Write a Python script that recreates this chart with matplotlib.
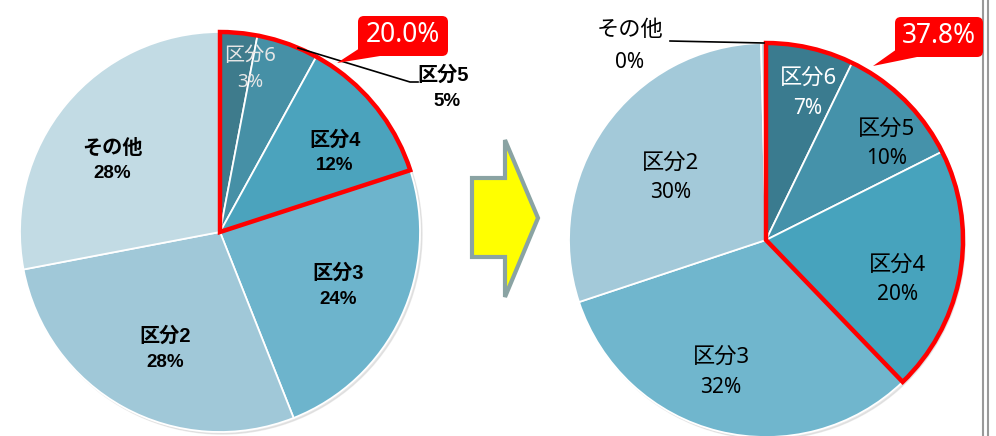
import matplotlib
matplotlib.use('Agg')
import matplotlib.pyplot as plt
from matplotlib.patches import Wedge, Circle, FancyBboxPatch, Polygon

plt.rcParams['font.family'] = ['Noto Sans', 'Noto Sans CJK JP', 'DejaVu Sans']
BOLD_FAMILY = ['Liberation Sans', 'Noto Sans CJK JP', 'DejaVu Sans']

# Data
categories = ['区分6', '区分5', '区分4', '区分3', '区分2', 'その他']
before = [3.0, 5.0, 12.0, 24.0, 28.0, 28.0]
after = [7.2, 10.4, 20.2, 32.1, 29.7, 0.4]
n_highlight = 3  # 区分6, 区分5, 区分4

before_colors = ['#3e7b8c', '#4690a6', '#4ba3bd', '#6db4cc', '#a0c8d8', '#c2dbe4']
after_colors = ['#3a7b8f', '#4592aa', '#47a3bd', '#70b6cd', '#a3c9d9', '#c2dbe4']

# label block centres in pixels (None = label drawn outside with a leader)
before_label_pos = [(250, 69), None, (335, 153), (338, 286), (165, 349), (112, 161)]
after_label_pos = [(808, 93), (887, 144), (898, 280), (721, 372), (671, 178), None]

W, H = 996, 436
fig = plt.figure(figsize=(W / 100, H / 100), dpi=100)
ax = fig.add_axes([0, 0, 1, 1])


def py(y):
    # pixel row (top = 0) -> data y
    return H - y


def family_for(weight):
    return BOLD_FAMILY if weight == 'bold' else plt.rcParams['font.family']


def draw_pie(values, colors, cx, cy, r, label_pos, text_colors, weights, fs, gap):
    center = (cx, py(cy))
    # soft shadow
    ax.add_patch(Circle((center[0] + 2, center[1] - 2), r, color='#d0d0d0', alpha=0.5, zorder=0))
    wedges, _ = ax.pie(values, colors=colors, startangle=90, counterclock=False,
                       center=center, radius=r,
                       wedgeprops=dict(edgecolor='white', linewidth=1.3))
    for w in wedges:
        w.set_zorder(1)
    for i, pos in enumerate(label_pos):
        if pos is None:
            continue
        x, y = pos
        fam = family_for(weights[i])
        ax.text(x, py(y - gap), categories[i], ha='center', va='center', fontsize=fs,
                fontweight=weights[i], family=fam, color=text_colors[i], zorder=5)
        ax.text(x, py(y + gap), f'{round(values[i]):.0f}%', ha='center', va='center',
                fontsize=fs - 1, fontweight=weights[i], family=fam,
                color=text_colors[i], zorder=5)
    # red outline around highlighted part
    share = sum(values[:n_highlight]) / sum(values) * 360
    ax.add_patch(Wedge(center, r, 90 - share, 90, fill=False, edgecolor='#ff0000',
                       linewidth=3.2, joinstyle='miter', zorder=4))
    return sum(values[:n_highlight]) / sum(values) * 100


def callout(x0, y0, x1, y1, tip, text):
    ax.add_patch(FancyBboxPatch((x0, py(y1)), x1 - x0, y1 - y0,
                                boxstyle='round,pad=0,rounding_size=6',
                                fc='#ff0000', ec='none', zorder=6))
    ax.add_patch(Polygon([(x0 + 2, py(y1 - 8)), (x0 + 22, py(y1)), (tip[0], py(tip[1]))],
                         closed=True, fc='#ff0000', ec='none', zorder=6))
    ax.text((x0 + x1) / 2, py((y0 + y1) / 2 - 1), text, ha='center', va='center',
            fontsize=19, color='white', zorder=7)


# left pie
left_total = draw_pie(before, before_colors, 220, 232, 200, before_label_pos,
                      ['#e6e6e6', 'k', 'k', 'k', 'k', 'k'],
                      ['normal', 'bold', 'bold', 'bold', 'bold', 'bold'], 14.5, 13)
ax.plot([298, 410, 418], [py(48), py(82), py(82)], color='k', lw=1.2, zorder=5)
ax.text(443, py(75), categories[1], ha='center', va='center', fontsize=14.5,
        fontweight='bold', family=BOLD_FAMILY, color='k')
ax.text(447, py(101), f'{round(before[1]):.0f}%', ha='center', va='center', fontsize=13.5,
        fontweight='bold', family=BOLD_FAMILY, color='k')
callout(358, 16, 448, 56, (337, 63), f'{left_total:.1f}%')

# right pie
right_total = draw_pie(after, after_colors, 766, 240, 197, after_label_pos,
                       ['white', 'k', 'k', 'k', 'k', 'k'],
                       ['normal'] * 6, 16, 15)
ax.plot([670, 764], [py(41), py(43)], color='k', lw=1.2, zorder=5)
ax.text(630, py(31), categories[5], ha='center', va='center', fontsize=16, color='k')
ax.text(630, py(62), f'{round(after[5]):.0f}%', ha='center', va='center', fontsize=15, color='k')
callout(895, 17, 983, 57, (873, 66), f'{right_total:.1f}%')

# arrow between pies
arrow = [(472, 178), (505, 178), (505, 140), (538, 218), (505, 297), (505, 257), (472, 257)]
ax.add_patch(Polygon([(x, py(y)) for x, y in arrow], closed=True, fc='#ffff00',
                     ec='#8aa3a3', lw=3, joinstyle='miter', zorder=3))

# page border on the right
ax.plot([983, 983], [0, H], color='#999999', lw=1.5)
ax.plot([987.5, 987.5], [0, H], color='#999999', lw=1.5)

ax.set_xlim(0, W)
ax.set_ylim(0, H)
ax.set_aspect('auto')
ax.axis('off')

plt.savefig('out.png', dpi=100)
